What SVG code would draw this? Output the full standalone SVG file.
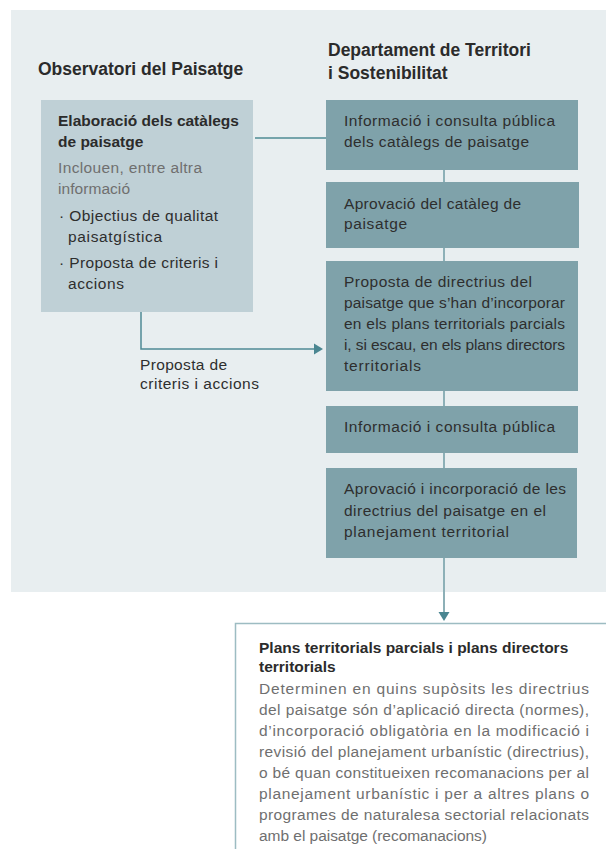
<svg xmlns="http://www.w3.org/2000/svg" width="606" height="849" viewBox="0 0 606 849">
<style>
  text { font-family: "Liberation Sans", Arial, sans-serif; }
  .hdr { font-size: 17.5px; font-weight: bold; fill: #2b2b2b; }
  .b { font-size: 15.5px; font-weight: bold; fill: #2b2b2b; }
  .t { font-size: 15.5px; fill: #2e2e2e; }
  .g { font-size: 15.5px; fill: #6f6f6f; }
  .lbox { fill: #bfd0d6; }
  .rbox { fill: #7fa2aa; }
  .conn { stroke: #4f8b95; stroke-width: 1.5; fill: none; }
  .vconn { stroke: #8db0b7; stroke-width: 2; fill: none; }
  .head { fill: #4a8691; }
</style>
<rect x="11" y="10" width="595" height="582" fill="#e8eef0"/>
<text class="hdr" x="38" y="75">Observatori del Paisatge</text>
<text class="hdr" x="328" y="56">Departament de Territori</text>
<text class="hdr" x="328" y="79">i Sostenibilitat</text>

<g id="connectors">
  <line class="conn" x1="255" y1="138" x2="326" y2="138"/>
  <line class="vconn" x1="444" y1="170" x2="444" y2="613"/>
  <polygon class="head" points="438.5,612 449.5,612 444,621"/>
  <polyline class="conn" points="141,312 141,349 315,349"/>
  <polygon class="head" points="314,343.5 323,349 314,354.5"/>
</g>

<g id="observatori-catalegs">
  <rect class="lbox" x="41" y="100" width="212" height="212"/>
  <text class="b" x="58" y="126">Elaboració dels catàlegs</text>
  <text class="b" x="58" y="147">de paisatge</text>
  <text class="g" x="58" y="173" textLength="144" lengthAdjust="spacing">Inclouen, entre altra</text>
  <text class="g" x="58" y="194" textLength="72" lengthAdjust="spacing">informació</text>
  <text class="t" x="59" y="221" textLength="159" lengthAdjust="spacing">· Objectius de qualitat</text>
  <text class="t" x="68" y="242" textLength="94" lengthAdjust="spacing">paisatgística</text>
  <text class="t" x="59" y="268" textLength="159" lengthAdjust="spacing">· Proposta de criteris i</text>
  <text class="t" x="68" y="289" textLength="56" lengthAdjust="spacing">accions</text>
</g>

<g id="label-proposta">
  <text class="t" x="140" y="370" textLength="87" lengthAdjust="spacing">Proposta de</text>
  <text class="t" x="140" y="389" textLength="119" lengthAdjust="spacing">criteris i accions</text>
</g>

<g id="info-cataleg">
  <rect class="rbox" x="326" y="100" width="252" height="70"/>
  <text class="t" x="344" y="126" textLength="211" lengthAdjust="spacing">Informació i consulta pública</text>
  <text class="t" x="344" y="147" textLength="185" lengthAdjust="spacing">dels catàlegs de paisatge</text>
</g>

<g id="aprovacio-cataleg">
  <rect class="rbox" x="326" y="182" width="253" height="66"/>
  <text class="t" x="344" y="209" textLength="177" lengthAdjust="spacing">Aprovació del catàleg de</text>
  <text class="t" x="344" y="229" textLength="63" lengthAdjust="spacing">paisatge</text>
</g>

<g id="proposta-directrius">
  <rect class="rbox" x="326" y="261" width="252" height="130"/>
  <text class="t" x="344" y="287" textLength="188" lengthAdjust="spacing">Proposta de directrius del</text>
  <text class="t" x="344" y="308" textLength="221" lengthAdjust="spacing">paisatge que s’han d’incorporar</text>
  <text class="t" x="344" y="329" textLength="221" lengthAdjust="spacing">en els plans territorials parcials</text>
  <text class="t" x="344" y="350" textLength="221" lengthAdjust="spacing">i, si escau, en els plans directors</text>
  <text class="t" x="344" y="371" textLength="77" lengthAdjust="spacing">territorials</text>
</g>

<g id="info-publica">
  <rect class="rbox" x="326" y="406" width="252" height="47"/>
  <text class="t" x="344" y="432" textLength="211" lengthAdjust="spacing">Informació i consulta pública</text>
</g>

<g id="aprovacio-incorporacio">
  <rect class="rbox" x="326" y="468" width="251" height="90"/>
  <text class="t" x="344" y="494" textLength="222" lengthAdjust="spacing">Aprovació i incorporació de les</text>
  <text class="t" x="344" y="516" textLength="202" lengthAdjust="spacing">directrius del paisatge en el</text>
  <text class="t" x="344" y="537" textLength="165" lengthAdjust="spacing">planejament territorial</text>
</g>

<g id="plans-territorials">
  <path d="M606,623.5 H235.5 V849" fill="none" stroke="#9dbcc2" stroke-width="1.5"/>
  <text class="b" x="259" y="653">Plans territorials parcials i plans directors</text>
  <text class="b" x="259" y="672">territorials</text>
  <text class="g" x="259" y="694" textLength="330" lengthAdjust="spacing">Determinen en quins supòsits les directrius</text>
  <text class="g" x="259" y="715" textLength="330" lengthAdjust="spacing">del paisatge són d’aplicació directa (normes),</text>
  <text class="g" x="259" y="736" textLength="330" lengthAdjust="spacing">d’incorporació obligatòria en la modificació i</text>
  <text class="g" x="259" y="757" textLength="330" lengthAdjust="spacing">revisió del planejament urbanístic (directrius),</text>
  <text class="g" x="259" y="778" textLength="330" lengthAdjust="spacing">o bé quan constitueixen recomanacions per al</text>
  <text class="g" x="259" y="799" textLength="330" lengthAdjust="spacing">planejament urbanístic i per a altres plans o</text>
  <text class="g" x="259" y="820" textLength="330" lengthAdjust="spacing">programes de naturalesa sectorial relacionats</text>
  <text class="g" x="259" y="841" textLength="228" lengthAdjust="spacing">amb el paisatge (recomanacions)</text>
</g>
</svg>
